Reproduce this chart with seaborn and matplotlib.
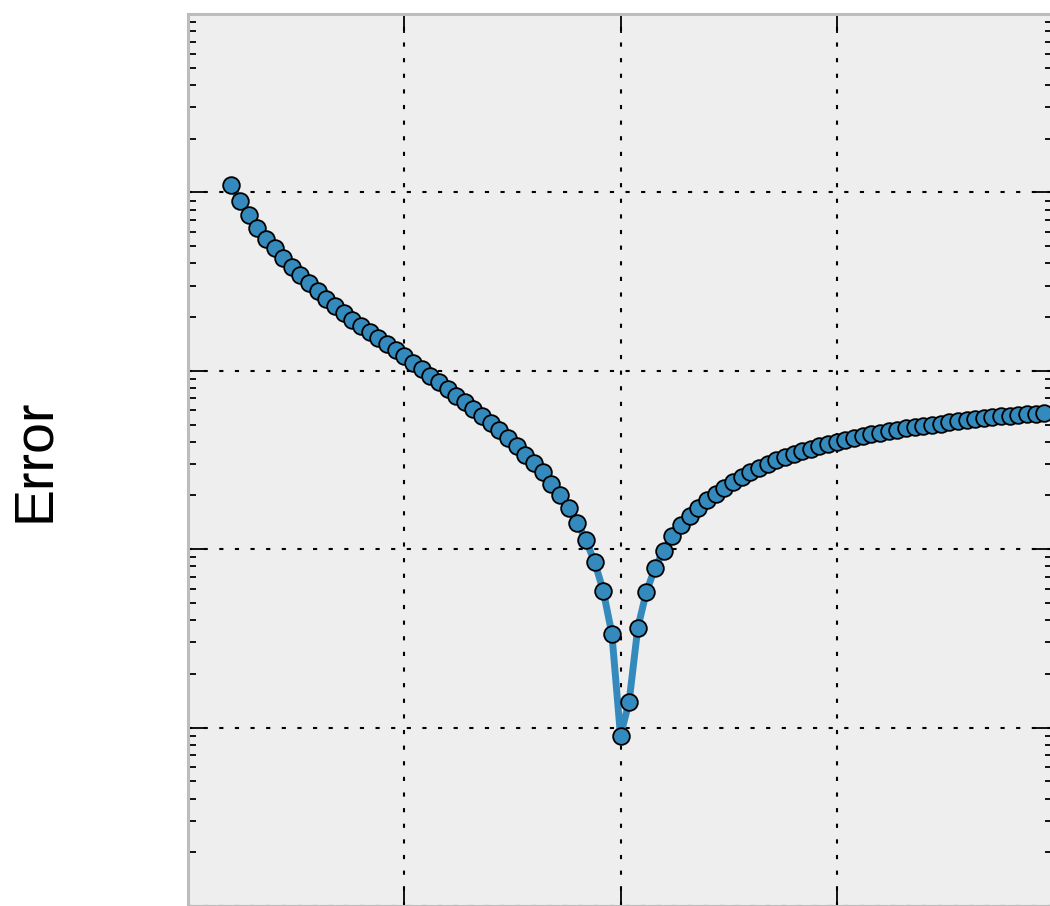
import numpy as np
import matplotlib
matplotlib.use("Agg")
import matplotlib.pyplot as plt
import matplotlib.ticker as mticker
import seaborn as sns
import pandas as pd

# x sample positions (evenly spaced grid, 95 points)
x_values = np.round(np.linspace(0.2, 3.96, 95), 2)

# error values (log scale)
error_values = [
    0.110, 0.0896, 0.0748, 0.0633, 0.0549, 0.0489, 0.0430, 0.0383, 0.0345, 0.0311,
    0.0281, 0.0253, 0.0231, 0.0211, 0.0193, 0.0179, 0.0165, 0.0153, 0.0142, 0.0131,
    0.0121, 0.0111, 0.0103, 0.00938, 0.00868, 0.00793, 0.00724, 0.00670, 0.00612, 0.00560,
    0.00511, 0.00467, 0.00421, 0.00380, 0.00338, 0.00305, 0.00272, 0.00233, 0.00202, 0.00171,
    0.00141, 0.00112, 0.000851, 0.000586, 0.000336, 0.0000902, 0.000140, 0.000363, 0.000578, 0.000788,
    0.000981, 0.00118, 0.00137, 0.00154, 0.00171, 0.00189, 0.00205, 0.00221, 0.00239, 0.00255,
    0.00272, 0.00286, 0.00301, 0.00317, 0.00330, 0.00343, 0.00356, 0.00366, 0.00380, 0.00390,
    0.00400, 0.00411, 0.00421, 0.00432, 0.00444, 0.00450, 0.00461, 0.00467, 0.00480, 0.00486,
    0.00492, 0.00498, 0.00505, 0.00518, 0.00524, 0.00531, 0.00538, 0.00545, 0.00552, 0.00560,
    0.00560, 0.00567, 0.00574, 0.00574, 0.00582,
]

x_ticks = [0, 1, 2, 3, 4]
y_label = "Error"

df = pd.DataFrame({"x": x_values, "error": error_values})

sns.set_style("white")
plt.rcParams["font.family"] = ["Liberation Sans", "DejaVu Sans"]

W, H = 1050, 906
fig = plt.figure(figsize=(W / 100, H / 100), dpi=100)
left_px, top_px, right_px, bottom_px = 188, 14, 1053, 906
ax = fig.add_axes([left_px / W, 1 - bottom_px / H, (right_px - left_px) / W, (bottom_px - top_px) / H])
ax.set_facecolor("#eeeeee")

sns.lineplot(data=df, x="x", y="error", ax=ax, color="#348ABD", linewidth=5,
             marker="o", markersize=12, markeredgecolor="black", markeredgewidth=1.3,
             markerfacecolor="#348ABD", zorder=3)

ax.set_yscale("log")
ax.set_ylim(1e-5, 1e0)
ax.set_xlim(0, 4)
ax.set_xticks(x_ticks)
ax.xaxis.set_minor_locator(mticker.NullLocator())
ax.yaxis.set_major_locator(mticker.LogLocator(base=10, numticks=10))
ax.yaxis.set_minor_locator(mticker.LogLocator(base=10, subs=np.arange(2, 10), numticks=20))
ax.xaxis.set_major_formatter(mticker.NullFormatter())
ax.yaxis.set_major_formatter(mticker.NullFormatter())
ax.yaxis.set_minor_formatter(mticker.NullFormatter())
ax.set_xlabel("")
ax.set_ylabel("")

ax.grid(True, which="major", color="black", linestyle=(0, (2, 5.5)), linewidth=1.5, zorder=1)
ax.set_axisbelow(True)

ax.tick_params(axis="both", which="major", direction="in", length=14, width=1.3, color="black",
               top=True, right=True, bottom=True, left=True)
ax.tick_params(axis="both", which="minor", direction="in", length=6, width=1.3, color="black",
               top=True, right=True, bottom=True, left=True)

for side in ["left", "right", "top", "bottom"]:
    ax.spines[side].set_color("#bcbcbc")
    ax.spines[side].set_linewidth(2.2)

fig.text(35 / W, 1 - 460 / H, y_label, rotation=90, ha="center", va="center", fontsize=40,
         color="black")

fig.savefig("out.png", dpi=100)
